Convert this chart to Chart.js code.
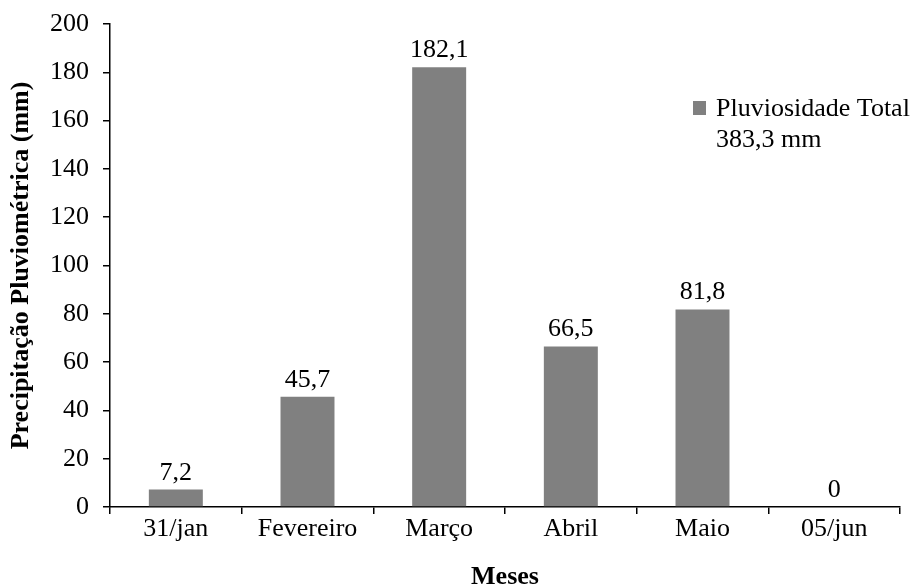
<!DOCTYPE html>
<html>
<head>
<meta charset="utf-8">
<script src="https://cdn.jsdelivr.net/npm/chart.js@4/dist/chart.umd.min.js"></script>
<style>
  html, body { margin: 0; padding: 0; background: #ffffff; }
  #wrap { width: 917px; height: 587px; position: relative; }
</style>
</head>
<body>
<div id="wrap"><canvas id="chart"></canvas></div>
<script>
// Monthly rainfall (mm)
const categories = ['31/jan', 'Fevereiro', 'Março', 'Abril', 'Maio', '05/jun'];
const rainfall = [7.2, 45.7, 182.1, 66.5, 81.8, 0];
const seriesName = 'Pluviosidade Total';
const totalLabel = '383,3 mm';

const FONT = "'Liberation Serif', 'Times New Roman', serif";
const FONT_SIZE = 26;
const BAR_COLOR = '#808080';
const fmt = v => String(v).replace('.', ',');

// Value labels above each bar
const valueLabels = {
  id: 'valueLabels',
  afterDatasetsDraw(chart) {
    const ctx = chart.ctx;
    const meta = chart.getDatasetMeta(0);
    ctx.save();
    ctx.font = FONT_SIZE + 'px ' + FONT;
    ctx.fillStyle = '#000';
    ctx.textAlign = 'center';
    ctx.textBaseline = 'alphabetic';
    meta.data.forEach((bar, i) => {
      ctx.fillText(fmt(chart.data.datasets[0].data[i]), bar.x, bar.y - 10);
    });
    ctx.restore();
  }
};

// Legend block: swatch, series name and total on a second line
const sideLegend = {
  id: 'sideLegend',
  afterDraw(chart) {
    const ctx = chart.ctx;
    const x = 693, y = 101;
    ctx.save();
    ctx.fillStyle = BAR_COLOR;
    ctx.fillRect(x, y, 13, 14);
    ctx.fillStyle = '#000';
    ctx.font = FONT_SIZE + 'px ' + FONT;
    ctx.textAlign = 'left';
    ctx.textBaseline = 'alphabetic';
    ctx.fillText(chart.data.datasets[0].label, 716, 116);
    ctx.fillText(totalLabel, 716, 147);
    ctx.restore();
  }
};

new Chart(document.getElementById('chart'), {
  type: 'bar',
  data: {
    labels: categories,
    datasets: [{
      label: seriesName,
      data: rainfall,
      backgroundColor: BAR_COLOR,
      borderWidth: 0,
      categoryPercentage: 1,
      barPercentage: 0.41
    }]
  },
  options: {
    responsive: true,
    maintainAspectRatio: false,
    animation: false,
    layout: { padding: { top: 24, right: 17, bottom: 0, left: 0 } },
    plugins: {
      legend: { display: false },
      tooltip: { enabled: false }
    },
    scales: {
      x: {
        grid: {
          display: true,
          offset: true,
          drawOnChartArea: false,
          drawTicks: true,
          tickLength: 7,
          color: '#000',
          lineWidth: 1.5
        },
        border: { display: true, color: '#000', width: 1.5 },
        ticks: { color: '#000', font: { family: FONT, size: FONT_SIZE }, padding: 0, maxRotation: 0 },
        title: {
          display: true,
          text: 'Meses',
          color: '#000',
          font: { family: FONT, size: FONT_SIZE, weight: 'bold' },
          padding: { top: 0, bottom: -6 }
        },
        afterFit(scale) { scale.height = 80; }
      },
      y: {
        min: 0,
        max: 200,
        ticks: { stepSize: 20, color: '#000', font: { family: FONT, size: FONT_SIZE }, padding: 14 },
        grid: {
          display: true,
          drawOnChartArea: false,
          drawTicks: true,
          tickLength: 7,
          color: '#000',
          lineWidth: 1.5
        },
        border: { display: true, color: '#000', width: 1.5 },
        title: {
          display: true,
          text: 'Precipitação Pluviométrica (mm)',
          color: '#000',
          font: { family: FONT, size: FONT_SIZE, weight: 'bold' },
          padding: { top: 6, bottom: 0 }
        },
        afterFit(scale) {
          scale.width = 110;
          scale.paddingTop = 0;
          scale.paddingBottom = 0;
        }
      }
    }
  },
  plugins: [valueLabels, sideLegend]
});
</script>
</body>
</html>
